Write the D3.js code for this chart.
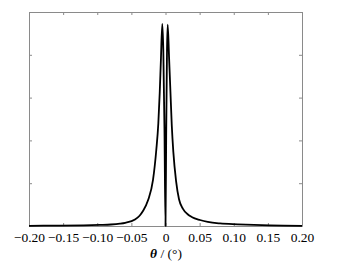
<!DOCTYPE html>
<html>
<head>
<meta charset="utf-8">
<script src="https://cdn.jsdelivr.net/npm/d3@7"></script>
<style>
  html, body { margin: 0; padding: 0; background: #fff; }
  svg { display: block; }
  text { font-family: "Liberation Serif", "Times New Roman", serif; }
</style>
</head>
<body>
<svg id="chart" width="340" height="272"></svg>
<script>
// ---- data ----
const thetaDeg = [
  -0.200, -0.155, -0.120, -0.096, -0.080, -0.0667, -0.059, -0.0447, -0.038, -0.033,
  -0.0256, -0.0183, -0.0135, -0.0105, -0.0085, -0.0068, -0.0047, -0.0032, -0.0015, 0.0000,
  0.0010, 0.0022, 0.0032, 0.0052, 0.0072, 0.0092, 0.0115, 0.0155, 0.0198, 0.0256,
  0.0320, 0.0390, 0.0505, 0.0620, 0.0800, 0.1060, 0.1530, 0.2000
];
const intensity = [
  0.001, 0.002, 0.003, 0.005, 0.007, 0.011, 0.015, 0.030, 0.048, 0.070,
  0.120, 0.215, 0.355, 0.480, 0.620, 0.770, 0.944, 0.820, 0.450, 0.000,
  0.420, 0.820, 0.941, 0.790, 0.630, 0.470, 0.345, 0.210, 0.125, 0.080,
  0.056, 0.041, 0.028, 0.019, 0.012, 0.008, 0.003, 0.001
];
const xTicks = [-0.20, -0.15, -0.10, -0.05, 0, 0.05, 0.10, 0.15, 0.20];
const xTickLabels = ["\u22120.20", "\u22120.15", "\u22120.10", "\u22120.05", "0", "0.05", "0.10", "0.15", "0.20"];
const yTicks = [0, 0.2, 0.4, 0.6, 0.8, 1.0];

// ---- layout ----
const svg = d3.select("#chart");
const L = 29, R = 302, T = 12, B = 226;
const x = d3.scaleLinear().domain([-0.2, 0.2]).range([L, R]);
const y = d3.scaleLinear().domain([0, 1]).range([B, T]);
const frameColor = "#8a8a8a";
const font = "'Liberation Serif', 'Times New Roman', serif";

// axes (ticks inward, no y labels)
const xb = svg.append("g").attr("transform", `translate(0,${B})`)
  .call(d3.axisBottom(x).tickValues(xTicks).tickSizeInner(-3).tickSizeOuter(0)
    .tickFormat((d, i) => xTickLabels[i]).tickPadding(6));
const xt = svg.append("g").attr("transform", `translate(0,${T})`)
  .call(d3.axisTop(x).tickValues(xTicks).tickSizeInner(-3).tickSizeOuter(0).tickFormat(""));
const yl = svg.append("g").attr("transform", `translate(${L},0)`)
  .call(d3.axisLeft(y).tickValues(yTicks).tickSizeInner(-3).tickSizeOuter(0).tickFormat(""));
const yr = svg.append("g").attr("transform", `translate(${R},0)`)
  .call(d3.axisRight(y).tickValues(yTicks).tickSizeInner(-3).tickSizeOuter(0).tickFormat(""));

[xb, xt, yl, yr].forEach(g => {
  g.attr("font-family", null);
  g.selectAll(".domain").attr("stroke", frameColor).attr("stroke-width", 1);
  g.selectAll(".tick line").attr("stroke", frameColor).attr("stroke-width", 1);
});
xb.selectAll(".tick text")
  .style("font-family", font).style("font-size", "13.5px").attr("fill", "#000");

// curve
const pts = thetaDeg.map((t, i) => [t, intensity[i]]);
svg.append("path")
  .datum(pts)
  .attr("fill", "none")
  .attr("stroke", "#000")
  .attr("stroke-width", 1.8)
  .attr("stroke-linejoin", "round")
  .attr("d", d3.line().x(d => x(d[0])).y(d => y(d[1])).curve(d3.curveMonotoneX));

// axis title
const title = svg.append("text")
  .attr("x", 166).attr("y", 258)
  .attr("text-anchor", "middle")
  .style("font-family", font).style("font-size", "13.5px").attr("fill", "#000");
title.append("tspan").attr("font-style", "italic").attr("font-weight", "bold").text("\u03B8");
title.append("tspan").text(" / (\u00B0)");
</script>
</body>
</html>
